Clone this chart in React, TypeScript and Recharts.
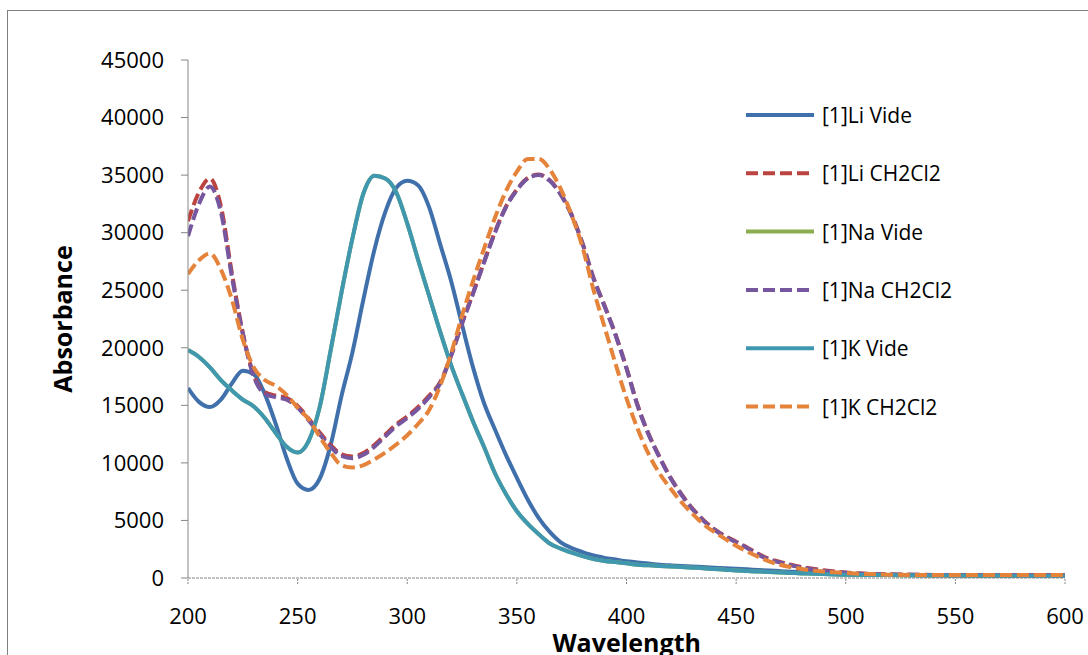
import React from 'react';
import { LineChart, Line, XAxis, YAxis, Legend, Label } from 'recharts';

const wavelengths = [
  200, 205, 210, 215, 220, 225, 230, 235, 240, 245, 250, 255, 260, 265, 270, 275, 280, 285, 290, 295,
  300, 305, 310, 315, 320, 325, 330, 335, 340, 345, 350, 355, 360, 365, 370, 375, 380, 385, 390, 395,
  400, 405, 410, 415, 420, 425, 430, 435, 440, 445, 450, 455, 460, 465, 470, 475, 480, 485, 490, 495,
  500, 510, 520, 530, 540, 550, 560, 570, 580, 590, 600,
];

const liVide = [
  16500, 15300, 14850, 15500, 16900, 18000, 17700, 16000, 13400, 10400, 8200, 7650, 8600, 11500, 15800, 19600, 24200, 28500, 31800, 33900,
  34500, 34100, 32200, 29000, 25800, 22000, 18300, 15200, 12900, 10700, 8700, 6800, 5200, 4000, 3100, 2600, 2250, 1950, 1750, 1600,
  1450, 1350, 1250, 1150, 1100, 1050, 1000, 950, 900, 850, 800, 750, 700, 650, 600, 550, 500, 450, 400, 350,
  320, 280, 260, 240, 220, 200, 180, 150, 130, 120, 110,
];

const liCH2Cl2 = [
  31000, 33500, 34700, 32300, 26500, 21300, 17600, 16150, 15850, 15650, 14950, 13850, 12650, 11550, 10750, 10550, 10850, 11550, 12450, 13350,
  14050, 14850, 15850, 17000, 19350, 22150, 24750, 27450, 30050, 32250, 33750, 34750, 35050, 34550, 33350, 31550, 29050, 26050, 23650, 21150,
  18250, 15050, 12550, 10550, 8750, 7300, 6050, 5050, 4250, 3650, 3150, 2650, 2100, 1650, 1400, 1150, 950, 800, 670, 570,
  480, 360, 320, 290, 270, 260, 250, 245, 240, 235, 235,
];

const kVide = [
  19800, 19200, 18300, 17200, 16300, 15500, 14900, 13900, 12600, 11400, 10900, 11900, 14800, 19700, 24800, 29500, 33400, 34950, 34700, 33500,
  30800, 27600, 24500, 21400, 18500, 16000, 13600, 11400, 9100, 7300, 5800, 4700, 3800, 3000, 2550, 2200, 1900, 1650, 1480, 1380,
  1280, 1150, 1100, 1050, 1000, 950, 900, 850, 780, 720, 650, 600, 560, 520, 480, 440, 400, 370, 340, 310,
  290, 270, 250, 230, 220, 210, 200, 190, 180, 170, 160,
];

// [1]Na Vide is hidden under [1]K Vide in the reference (same trace)
const naVide = kVide;

const naCH2Cl2 = [
  29700, 32500, 34000, 31800, 26200, 21200, 17500, 16000, 15700, 15500, 14800, 13700, 12500, 11400, 10600, 10400, 10700, 11400, 12300, 13200,
  13900, 14700, 15700, 16900, 19300, 22100, 24700, 27400, 30000, 32200, 33700, 34700, 35000, 34500, 33300, 31500, 29000, 26000, 23600, 21100,
  18200, 15000, 12500, 10500, 8700, 7250, 6000, 5000, 4200, 3600, 3100, 2600, 2050, 1600, 1350, 1100, 900, 750, 620, 520,
  450, 350, 300, 280, 260, 250, 240, 240, 230, 230, 230,
];

const kCH2Cl2 = [
  26400, 27600, 28200, 26800, 24200, 20700, 18300, 17200, 16700, 15900, 14800, 13800, 12300, 10900, 9800, 9600, 9800, 10300, 10900, 11600,
  12400, 13400, 14600, 16700, 19500, 22800, 25800, 28600, 31300, 33600, 35300, 36400, 36400, 35500, 33800, 31500, 28700, 25000, 21800, 18600,
  15600, 13000, 10800, 9100, 7800, 6600, 5600, 4700, 4000, 3400, 2800, 2300, 1850, 1450, 1150, 950, 780, 650, 560, 490,
  430, 340, 290, 270, 260, 250, 250, 250, 250, 250, 250,
];

const xTicks = [200, 250, 300, 350, 400, 450, 500, 550, 600];
const yTicks = [0, 5000, 10000, 15000, 20000, 25000, 30000, 35000, 40000, 45000];

const seriesNames = ['[1]Li Vide', '[1]Li CH2Cl2', '[1]Na Vide', '[1]Na CH2Cl2', '[1]K Vide', '[1]K CH2Cl2'];
const seriesKeys = ['liVide', 'liCH2Cl2', 'naVide', 'naCH2Cl2', 'kVide', 'kCH2Cl2'];
const seriesColors = ['#4070AB', '#BB4340', '#8AAE4F', '#76569E', '#3F98AF', '#E5833A'];
const seriesDashed = [false, true, false, true, false, true];

const data = wavelengths.map((w, i) => ({
  w,
  liVide: liVide[i],
  liCH2Cl2: liCH2Cl2[i],
  naVide: naVide[i],
  naCH2Cl2: naCH2Cl2[i],
  kVide: kVide[i],
  kCH2Cl2: kCH2Cl2[i],
}));

const FONT = '"Open Sans", "DejaVu Sans", sans-serif';
const AXIS_GRAY = '#868686';

const LegendContent = () => (
  <svg width={320} height={360} style={{ display: 'block', overflow: 'visible' }}>
    {seriesNames.map((name, i) => {
      const cy = 30 + i * 58.3;
      return (
        <g key={name}>
          <line
            x1={6}
            x2={74}
            y1={cy}
            y2={cy}
            stroke={seriesColors[i]}
            strokeWidth={4}
            strokeDasharray={seriesDashed[i] ? '12 5' : undefined}
          />
          <text x={82} y={cy} dominantBaseline="central" fontFamily={FONT} fontSize={21} fill="#000">
            {name}
          </text>
        </g>
      );
    })}
  </svg>
);

export default function App() {
  return (
    <div style={{ position: 'absolute', left: 0, top: 0, width: 1088, height: 655, overflow: 'hidden', background: '#fff' }}>
      <div
        style={{
          position: 'absolute',
          left: 7,
          top: 10,
          width: 1200,
          height: 800,
          border: '1px solid #7f7f7f',
        }}
      />
      <div style={{ position: 'absolute', left: 0, top: 0 }}>
        <LineChart width={1088} height={655} data={data} margin={{ top: 60, right: 23, left: 0, bottom: 47 }}>
          <XAxis
            dataKey="w"
            type="number"
            domain={[200, 600]}
            ticks={xTicks}
            height={30}
            tickSize={6}
            tickMargin={24}
            axisLine={{ stroke: AXIS_GRAY, strokeDasharray: '3 1' }}
            tickLine={{ stroke: AXIS_GRAY, strokeDasharray: '2 1' }}
            tick={{ fill: '#000', fontSize: 22, fontFamily: FONT }}
            allowDataOverflow
          >
            <Label
              content={() => (
                <text x={626.7} y={652} textAnchor="middle" fontFamily={FONT} fontSize={25} fontWeight="bold" fill="#000">
                  Wavelength
                </text>
              )}
            />
          </XAxis>
          <YAxis
            type="number"
            domain={[0, 45000]}
            ticks={yTicks}
            width={188}
            tickSize={7}
            tickMargin={17}
            axisLine={{ stroke: AXIS_GRAY }}
            tickLine={{ stroke: AXIS_GRAY }}
            tick={{ fill: '#000', fontSize: 22, fontFamily: FONT }}
            allowDataOverflow
          >
            <Label
              content={() => (
                <text
                  x={0}
                  y={0}
                  transform="translate(62,319) rotate(-90)"
                  textAnchor="middle"
                  dominantBaseline="central"
                  fontFamily={FONT}
                  fontSize={25}
                  fontWeight="bold"
                  fill="#000"
                >
                  Absorbance
                </text>
              )}
            />
          </YAxis>
          <Legend
            content={() => <LegendContent />}
            wrapperStyle={{ position: 'absolute', left: 740, top: 85, width: 0, height: 0, overflow: 'visible' }}
          />
          {seriesKeys.map((k, i) => (
            <Line
              key={k}
              dataKey={k}
              name={seriesNames[i]}
              type="monotone"
              stroke={seriesColors[i]}
              strokeWidth={4}
              strokeDasharray={seriesDashed[i] ? '12 5' : undefined}
              dot={false}
              activeDot={false}
              isAnimationActive={false}
            />
          ))}
        </LineChart>
      </div>
    </div>
  );
}
